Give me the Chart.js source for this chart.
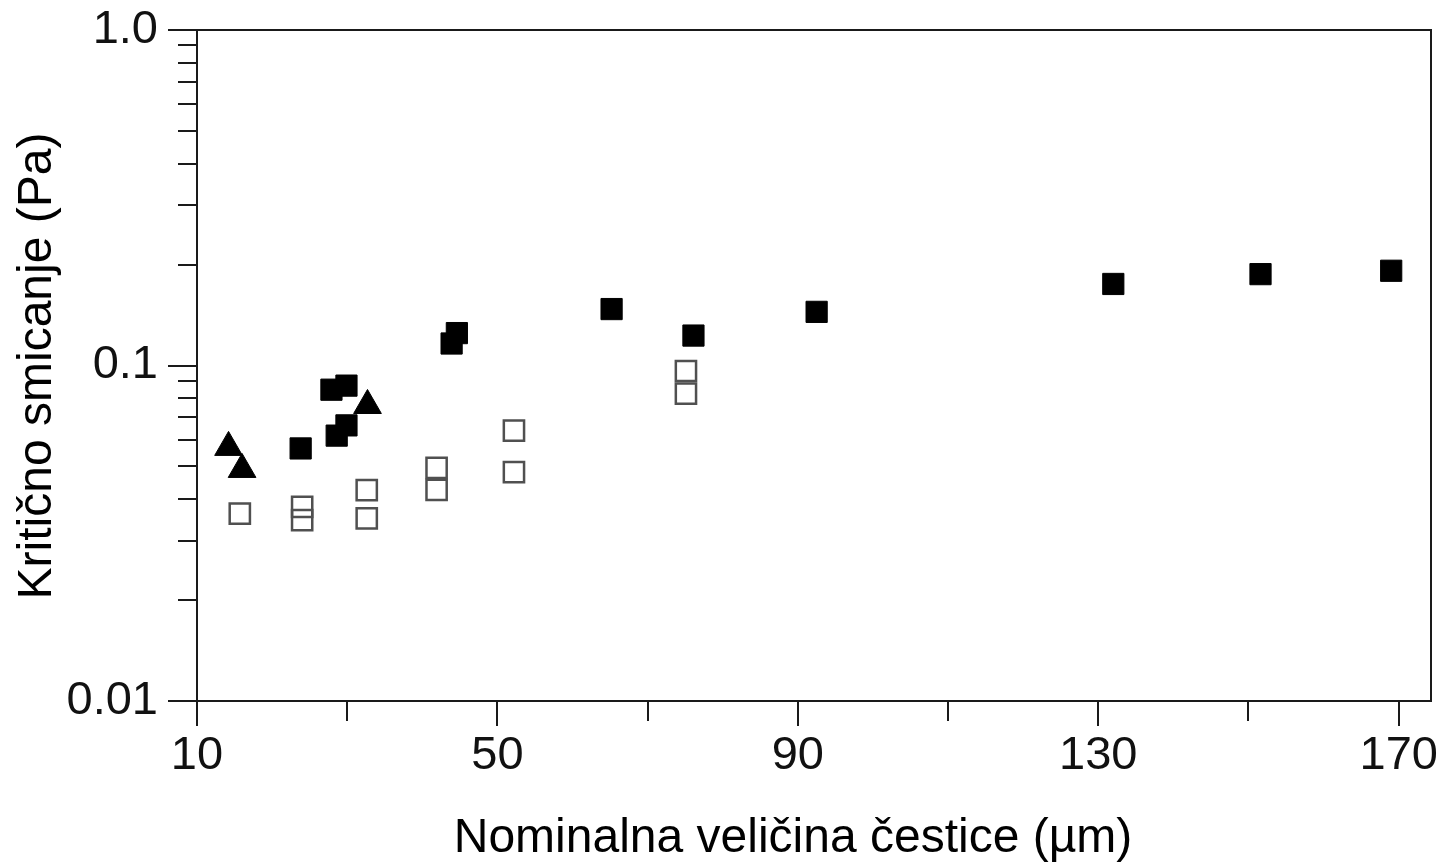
<!DOCTYPE html>
<html>
<head>
<meta charset="utf-8">
<script src="https://cdn.jsdelivr.net/npm/chart.js@4/dist/chart.umd.min.js"></script>
<style>
html,body{margin:0;padding:0;background:#fff;}
#wrap{width:1448px;height:865px;}
</style>
</head>
<body>
<div id="wrap"><canvas id="c" width="1448" height="865"></canvas></div>
<script>
// ---- data ----
const triX = [14.2, 16.0, 32.7];
const triY = [0.057, 0.049, 0.076];

const filledX = [23.8, 27.9, 29.9, 28.6, 29.9, 43.9, 44.6, 65.2, 76.1, 92.5, 132.0, 151.6, 169.0];
const filledY = [0.0566, 0.0847, 0.0871, 0.0618, 0.0663, 0.1163, 0.1249, 0.1473, 0.1228, 0.1445, 0.175, 0.1872, 0.1916];

const openX = [15.7, 24.0, 24.0, 32.6, 32.6, 41.9, 41.9, 52.2, 52.2, 75.1, 75.1];
const openY = [0.0362, 0.0379, 0.0346, 0.0425, 0.0350, 0.0495, 0.0426, 0.0640, 0.0481, 0.0963, 0.0825];

const xTicks = [10, 50, 90, 130, 170];
const xTickLabels = ['10', '50', '90', '130', '170'];
const xMinorTicks = [30, 70, 110, 150];
const yTicks = [0.01, 0.1, 1];
const yTickLabels = ['0.01', '0.1', '1.0'];
const yMinorTicks = [0.02,0.03,0.04,0.05,0.06,0.07,0.08,0.09,0.2,0.3,0.4,0.5,0.6,0.7,0.8,0.9];

const xTitle = 'Nominalna veličina čestice (µm)';
const yTitle = 'Kritično smicanje (Pa)';

function pts(xs, ys){ return xs.map((x,i)=>({x:x, y:ys[i]})); }

const FONT = '"Liberation Sans", Arial, sans-serif';
const INK = '#1a1a1a';

const framePlugin = {
  id: 'frame',
  afterDraw(chart){
    const ctx = chart.ctx, a = chart.chartArea;
    const xs = chart.scales.x, ys = chart.scales.y;
    ctx.save();
    ctx.strokeStyle = INK;
    ctx.lineWidth = 2;
    ctx.strokeRect(a.left, a.top, a.right - a.left, a.bottom - a.top);
    ctx.lineWidth = 2;
    ctx.beginPath();
    yTicks.forEach(v=>{ const p = Math.round(ys.getPixelForValue(v)); ctx.moveTo(a.left - 29, p); ctx.lineTo(a.left, p); });
    yMinorTicks.forEach(v=>{ const p = Math.round(ys.getPixelForValue(v)); ctx.moveTo(a.left - 19, p); ctx.lineTo(a.left, p); });
    xTicks.forEach(v=>{ const p = Math.round(xs.getPixelForValue(v)); ctx.moveTo(p, a.bottom); ctx.lineTo(p, a.bottom + 25); });
    xMinorTicks.forEach(v=>{ const p = Math.round(xs.getPixelForValue(v)); ctx.moveTo(p, a.bottom); ctx.lineTo(p, a.bottom + 20); });
    ctx.stroke();
    // axis titles
    ctx.fillStyle = '#000';
    ctx.font = '48px ' + FONT;
    ctx.textAlign = 'center';
    ctx.textBaseline = 'alphabetic';
    ctx.fillText(xTitle, 793, 852);
    ctx.translate(51, 366);
    ctx.rotate(-Math.PI/2);
    ctx.fillText(yTitle, 0, 0);
    ctx.restore();
  }
};

new Chart(document.getElementById('c'), {
  type: 'scatter',
  data: {
    datasets: [
      { label: 'filled', data: pts(filledX, filledY), pointStyle: 'rect', radius: 15, hoverRadius: 15,
        backgroundColor: '#000', borderColor: '#000', borderWidth: 1 },
      { label: 'tri', data: pts(triX, triY), pointStyle: 'triangle', radius: 16, hoverRadius: 16,
        backgroundColor: '#000', borderColor: '#000', borderWidth: 1 },
      { label: 'open', data: pts(openX, openY), pointStyle: 'rect', radius: 14.3, hoverRadius: 14.3,
        backgroundColor: 'rgba(0,0,0,0)', borderColor: '#505050', borderWidth: 2.5 }
    ]
  },
  options: {
    responsive: false,
    animation: false,
    events: [],
    layout: { padding: { top: 30, right: 15, left: 0, bottom: 0 } },
    plugins: { legend: { display: false }, tooltip: { enabled: false } },
    scales: {
      x: {
        type: 'linear', min: 10, max: 174.3,
        afterBuildTicks(s){ s.ticks = xTicks.map(v=>({value:v})); },
        afterFit(s){ s.height = 164; s.paddingLeft = 0; s.paddingRight = 0; },
        ticks: { callback: (v, i) => xTickLabels[i], font: { family: FONT, size: 47 }, color: '#111', padding: 2, maxRotation: 0, autoSkip: false },
        grid: { display: true, drawOnChartArea: false, drawTicks: true, tickLength: 25, tickColor: 'rgba(0,0,0,0)', color: 'rgba(0,0,0,0)' },
        border: { display: false },
        title: { display: false }
      },
      y: {
        type: 'logarithmic', min: 0.01, max: 1,
        afterBuildTicks(s){ s.ticks = yTicks.map(v=>({value:v})); },
        afterFit(s){ s.width = 197; s.paddingTop = 0; s.paddingBottom = 0; },
        ticks: { callback: (v, i) => yTickLabels[i], font: { family: FONT, size: 47 }, color: '#111', padding: 10, autoSkip: false },
        grid: { display: true, drawOnChartArea: false, drawTicks: true, tickLength: 29, tickColor: 'rgba(0,0,0,0)', color: 'rgba(0,0,0,0)' },
        border: { display: false },
        title: { display: false }
      }
    }
  },
  plugins: [framePlugin]
});
</script>
</body>
</html>
